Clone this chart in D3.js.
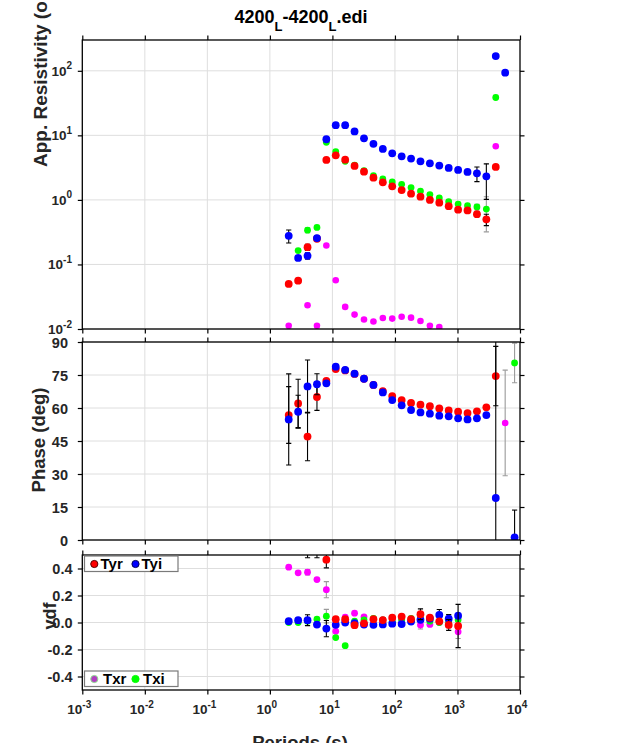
<!DOCTYPE html>
<html>
<head>
<meta charset="utf-8">
<script src="https://cdn.jsdelivr.net/npm/d3@7"></script>
<style>
  html, body { margin: 0; padding: 0; background: #fff; overflow: hidden; }
  svg { display: block; font-family: "Liberation Sans", Arial, Helvetica, sans-serif; font-weight: bold; }
</style>
</head>
<body>
<svg id="chart" width="627" height="743"></svg>
<script>
// periods (s)
const periods = [2, 2.83, 4, 5.66, 8, 11.3, 16, 22.6, 32, 45.3, 64, 90.5, 128, 181, 256,
  362, 512, 724, 1024, 1448, 2048, 2896, 4096, 5793, 8192];

// apparent resistivity
const rhoRed = [0.050, 0.056, 0.185, 0.25, 4.16, 4.9, 4.2, 3.36, 2.74, 2.21, 1.87, 1.62, 1.42,
  1.25, 1.12, 1.0, 0.906, 0.80, 0.705, 0.687, 0.60, 0.50, 3.24, null, null];
const rhoBlue = [0.278, 0.126, 0.136, 0.256, 8.7, 14.4, 14.4, 11.5, 9.0, 7.38, 6.17, 5.27, 4.74,
  4.37, 3.96, 3.69, 3.40, 3.13, 2.91, 2.71, 2.58, 2.32, 169, 93.4, null];
const rhoGreen = [null, 0.164, 0.34, 0.374, 7.8, 5.6, 3.96, 3.45, 2.85, 2.38, 2.11, 1.90, 1.74,
  1.55, 1.37, 1.21, 1.07, 0.937, 0.863, 0.813, 0.776, 0.72, 38.6, null, null];
const rhoMagenta = [0.0112, null, 0.0233, 0.0112, 0.197, 0.057, 0.022, 0.0167, 0.014, 0.0131, 0.0148,
  0.0145, 0.0155, 0.015, 0.0133, 0.0112, 0.0107, null, null, null, null, null, 6.77, null, null];
const rhoErrRed = [null, null, 0.02, null, null, null, null, null, null, null, null, null, null,
  null, null, null, null, null, null, null, 0.04, 0.1, null, null, null];
const rhoErrBlue = [0.063, null, 0.015, null, null, null, null, null, null, null, null, null, null,
  null, null, null, null, null, null, null, 0.66, 1.3, null, null, null];
const rhoErrGreen = [null, null, 0.03, null, null, null, null, null, null, null, null, null, null,
  null, null, null, null, null, null, null, 0.08, 0.4, null, null, null];

// phase (deg)
const phRed = [56.8, 62.1, 47, 65, 72.3, 77.7, 77.1, 75.5, 73.3, 70.5, 67.7, 65.4, 63.6, 62.3,
  61.5, 60.8, 59.8, 58.9, 58.3, 57.7, 58.5, 60.3, 74.5, null, null];
const phBlue = [54.8, 58.3, 69.8, 70.8, 71.2, 78.8, 77.3, 75.6, 73.3, 70.5, 67.1, 63.6, 61.2, 59.1,
  58, 57.4, 56.5, 56.2, 55.3, 54.8, 55.3, 56.8, 19.1, null, 1.2];
const phMagenta = [null, null, null, null, null, null, null, null, null, null, null, null, null,
  null, null, null, null, null, null, null, null, null, null, 53.2, null];
const phGreen = [null, null, null, null, null, null, null, null, null, null, null, null, null,
  null, null, null, null, null, null, null, null, null, null, null, 80.5];
const phErrRed = [12.9, 11, 11, 6.1, null, null, null, null, null, null, null, null, null, null,
  null, null, null, null, null, null, null, null, 13.5, null, null];
const phErrBlue = [20.7, 7.5, 12, 4.8, null, null, null, null, null, null, null, null, null, null,
  null, null, null, null, null, null, null, null, 90, null, 12.4];
const phErrMagenta = [null, null, null, null, null, null, null, null, null, null, null, null, null,
  null, null, null, null, null, null, null, null, null, null, 24, null];
const phErrGreen = [null, null, null, null, null, null, null, null, null, null, null, null, null,
  null, null, null, null, null, null, null, null, null, null, null, 9];

// tipper
const tRed = [null, null, 0.6, 0.6, 0.465, 0.025, 0.025, -0.02, -0.006, 0.025, 0.018, 0.036, 0.044,
  0.024, 0.061, 0.036, 0.009, -0.018, -0.026, null, null, null, null, null, null];
const tBlue = [0.01, 0.017, 0.017, -0.015, -0.045, -0.017, 0.0, -0.005, -0.015, -0.017, -0.014,
  -0.009, -0.011, 0.007, 0.02, 0.028, 0.056, 0.028, 0.05, null, null, null, null, null, null];
const tMagenta = [0.41, 0.368, 0.373, 0.318, 0.243, -0.065, 0.04, 0.069, 0.042, 0.027, 0.02, 0.03,
  0.025, 0.007, -0.018, -0.014, 0.0, -0.01, -0.069, null, null, null, null, null, null];
const tGreen = [0.0, 0.0, 0.01, 0.025, 0.047, -0.112, -0.172, 0.01, 0.02, 0.03, 0.02, 0.01, 0.02,
  0.03, 0.03, 0.01, 0.0, 0.01, 0.02, null, null, null, null, null, null];
const tErrRed = [null, null, 0.12, 0.12, 0.06, null, null, null, null, null, null, null, null, null,
  0.04, null, null, 0.04, 0.16, null, null, null, null, null, null];
const tErrBlue = [null, null, 0.04, null, 0.06, null, null, null, null, null, null, null, null, null,
  null, null, 0.04, 0.03, null, null, null, null, null, null, null];
const tErrMagenta = [null, null, 0.02, null, 0.06, null, null, null, null, null, null, null, null,
  null, 0.03, null, null, null, 0.05, null, null, null, null, null, null];
const tErrGreen = [null, null, null, null, 0.05, null, null, null, null, null, null, null, null,
  null, null, null, null, null, null, null, null, null, null, null, null];

const xTicks = [1e-3, 1e-2, 1e-1, 1, 10, 100, 1000, 10000];
const rhoTicks = [0.01, 0.1, 1, 10, 100];
const phTicks = [0, 15, 30, 45, 60, 75, 90];
const tTicks = [-0.4, -0.2, 0, 0.2, 0.4];

const RED = "#ff0000", BLUE = "#0000ff", GREEN = "#00ff00", MAGENTA = "#ff00ff";
const ERR_DARK = "#000000", ERR_GREY = "#9a9a9a";
const GRID = "#dedede";
const LABEL = "#262626";

const svg = d3.select("#chart");
const X0 = 82.3, X1 = 520;
const x = d3.scaleLog().domain([1e-3, 1e4]).range([X0, X1]);

const panels = {
  rho: { top: 40, bottom: 329 },
  ph: { top: 342, bottom: 540 },
  t: { top: 555, bottom: 690 }
};

const yRho = d3.scaleLog().domain([0.01, 300]).range([panels.rho.bottom, panels.rho.top]);
const yPh = d3.scaleLinear().domain([0, 90]).range([panels.ph.bottom, panels.ph.top]);
const yT = d3.scaleLinear().domain([-0.5, 0.5]).range([panels.t.bottom, panels.t.top]);

function drawFrame(name, y, yTicks) {
  const p = panels[name];
  const g = svg.append("g").attr("class", "panel-" + name);
  // grid
  g.append("g").selectAll("line.gx").data(xTicks.slice(1, -1)).enter().append("line")
    .attr("x1", d => x(d)).attr("x2", d => x(d))
    .attr("y1", p.top).attr("y2", p.bottom)
    .attr("stroke", GRID).attr("stroke-width", 1);
  g.append("g").selectAll("line.gy").data(yTicks).enter().append("line")
    .attr("x1", X0).attr("x2", X1)
    .attr("y1", d => y(d)).attr("y2", d => y(d))
    .attr("stroke", GRID).attr("stroke-width", 1);

  // outward ticks on all four sides
  const tick = (axis, tr) => g.append("g").attr("transform", tr)
    .call(axis.tickFormat("").tickSizeOuter(0).tickSizeInner(4.5))
    .call(s => s.select(".domain").remove())
    .call(s => s.selectAll("line").attr("stroke", "#000").attr("stroke-width", 1.2));
  tick(d3.axisBottom(x).tickValues(xTicks), `translate(0,${p.bottom})`);
  tick(d3.axisTop(x).tickValues(xTicks), `translate(0,${p.top})`);
  tick(d3.axisLeft(y).tickValues(yTicks), `translate(${X0},0)`);
  tick(d3.axisRight(y).tickValues(yTicks), `translate(${X1},0)`);

  const clipId = "clip-" + name;
  svg.append("clipPath").attr("id", clipId).append("rect")
    .attr("x", X0).attr("y", p.top).attr("width", X1 - X0).attr("height", p.bottom - p.top);
  const data = svg.append("g").attr("clip-path", `url(#${clipId})`);

  return { g, data, p };
}

function drawFrameBox(name) {
  const p = panels[name];
  svg.append("rect")
    .attr("x", X0).attr("y", p.top)
    .attr("width", X1 - X0).attr("height", p.bottom - p.top)
    .attr("fill", "none").attr("stroke", "#000").attr("stroke-width", 1.3);
}

function drawSeries(g, y, vals, errs, color, r, errColor) {
  const ymin = y.domain()[0];
  const pts = periods.map((t, i) => ({ t, v: vals[i], e: errs ? errs[i] : null }))
    .filter(d => d.v !== null);
  const withErr = pts.filter(d => d.e !== null);
  const lo = d => y(Math.max(d.v - d.e, ymin > 0 ? ymin * 0.5 : d.v - d.e));
  const hi = d => y(d.v + d.e);
  const eg = g.append("g").attr("stroke", errColor).attr("stroke-width", 1.1);
  eg.selectAll("line.bar").data(withErr).enter().append("line")
    .attr("x1", d => x(d.t)).attr("x2", d => x(d.t))
    .attr("y1", lo).attr("y2", hi);
  eg.selectAll("line.caplo").data(withErr).enter().append("line")
    .attr("x1", d => x(d.t) - 2.6).attr("x2", d => x(d.t) + 2.6)
    .attr("y1", lo).attr("y2", lo);
  eg.selectAll("line.caphi").data(withErr).enter().append("line")
    .attr("x1", d => x(d.t) - 2.6).attr("x2", d => x(d.t) + 2.6)
    .attr("y1", hi).attr("y2", hi);
  g.append("g").selectAll("circle").data(pts).enter().append("circle")
    .attr("cx", d => x(d.t)).attr("cy", d => y(d.v))
    .attr("r", r).attr("fill", color);
}

function supLabel(sel, base, exp) {
  sel.append("tspan").text(base);
  sel.append("tspan").attr("dy", -6.5).attr("font-size", 10).text(exp);
}

// ---- resistivity panel
const rhoP = drawFrame("rho", yRho, rhoTicks);
drawSeries(rhoP.data, yRho, rhoMagenta, null, MAGENTA, 3.3, ERR_GREY);
drawSeries(rhoP.data, yRho, rhoGreen, rhoErrGreen, GREEN, 3.4, ERR_GREY);
drawSeries(rhoP.data, yRho, rhoRed, rhoErrRed, RED, 3.9, ERR_DARK);
drawSeries(rhoP.data, yRho, rhoBlue, rhoErrBlue, BLUE, 3.9, ERR_DARK);
drawFrameBox("rho");
rhoTicks.forEach(v => {
  const t = svg.append("text").attr("x", 72).attr("y", yRho(v) + 5)
    .attr("text-anchor", "end").attr("font-size", 13.5).attr("fill", LABEL);
  supLabel(t, "10", String(Math.round(Math.log10(v))));
});

// ---- phase panel
const phP = drawFrame("ph", yPh, phTicks);
drawSeries(phP.data, yPh, phRed, phErrRed, RED, 3.9, ERR_DARK);
drawSeries(phP.data, yPh, phBlue, phErrBlue, BLUE, 3.9, ERR_DARK);
drawSeries(phP.data, yPh, phMagenta, phErrMagenta, MAGENTA, 3.3, ERR_GREY);
drawSeries(phP.data, yPh, phGreen, phErrGreen, GREEN, 3.4, ERR_GREY);
drawFrameBox("ph");
phTicks.forEach(v => {
  svg.append("text").attr("x", 68).attr("y", yPh(v) + 5.5)
    .attr("text-anchor", "end").attr("font-size", 14.5).attr("fill", LABEL).text(v);
});

// ---- tipper panel
const tP = drawFrame("t", yT, tTicks);
drawSeries(tP.data, yT, tMagenta, tErrMagenta, MAGENTA, 3.4, ERR_GREY);
drawSeries(tP.data, yT, tGreen, tErrGreen, GREEN, 3.4, ERR_GREY);
drawSeries(tP.data, yT, tBlue, tErrBlue, BLUE, 3.9, ERR_DARK);
drawSeries(tP.data, yT, tRed, tErrRed, RED, 3.9, ERR_DARK);
drawFrameBox("t");
tTicks.forEach(v => {
  svg.append("text").attr("x", 72.5).attr("y", yT(v) + 5.5)
    .attr("text-anchor", "end").attr("font-size", 14.5).attr("fill", LABEL).text(v.toFixed(1));
});

// x tick labels (bottom panel only)
xTicks.forEach(v => {
  const t = svg.append("text").attr("x", x(v) - 3).attr("y", 714)
    .attr("text-anchor", "middle").attr("font-size", 13.5).attr("fill", LABEL);
  supLabel(t, "10", String(Math.round(Math.log10(v))));
});

// legends in tipper panel
function legendBox(y0, items) {
  const lg = svg.append("g");
  lg.append("rect").attr("x", 84.5).attr("y", y0).attr("width", 93.5).attr("height", 15.5)
    .attr("fill", "#fff").attr("stroke", "#7a7a7a").attr("stroke-width", 1.2);
  items.forEach(it => {
    lg.append("circle").attr("cx", it.cx).attr("cy", y0 + 8).attr("r", 3.6)
      .attr("fill", it.color).attr("stroke", it.edge).attr("stroke-width", 1);
    lg.append("text").attr("x", it.tx).attr("y", y0 + 13.3)
      .attr("font-size", 15).attr("fill", "#000").text(it.label);
  });
}
legendBox(556, [
  { label: "Tyr", color: RED, edge: "#5a0000", cx: 94.3, tx: 100.5 },
  { label: "Tyi", color: BLUE, edge: "#00005a", cx: 135.5, tx: 141.5 }
]);
legendBox(671, [
  { label: "Txr", color: "#b040c0", edge: "#90e090", cx: 94.3, tx: 103 },
  { label: "Txi", color: GREEN, edge: GREEN, cx: 135.5, tx: 143 }
]);

// axis labels (the first and last run past the window edge, as in the original)
svg.append("text").attr("transform", "translate(47,167) rotate(-90)")
  .attr("text-anchor", "start").attr("font-size", 19).attr("fill", LABEL)
  .text("App. Resistivity (ohm.m)");
svg.append("text").attr("transform", "translate(45,440) rotate(-90)")
  .attr("text-anchor", "middle").attr("font-size", 18.5).attr("fill", LABEL)
  .text("Phase (deg)");
svg.append("text").attr("transform", "translate(55.5,616) rotate(-90)")
  .attr("text-anchor", "middle").attr("font-size", 18).attr("fill", LABEL)
  .text("vdf");
svg.append("text").attr("x", 300).attr("y", 749)
  .attr("text-anchor", "middle").attr("font-size", 18.5).attr("fill", LABEL)
  .text("Periods (s)");

// title with subscripts
const title = svg.append("text").attr("x", 301).attr("y", 22.5)
  .attr("text-anchor", "middle").attr("font-size", 18).attr("fill", "#000");
title.append("tspan").text("4200");
title.append("tspan").attr("dy", 8).attr("font-size", 13).text("L");
title.append("tspan").attr("dy", -8).text("-4200");
title.append("tspan").attr("dy", 8).attr("font-size", 13).text("L");
title.append("tspan").attr("dy", -8).text(".edi");
</script>
</body>
</html>
